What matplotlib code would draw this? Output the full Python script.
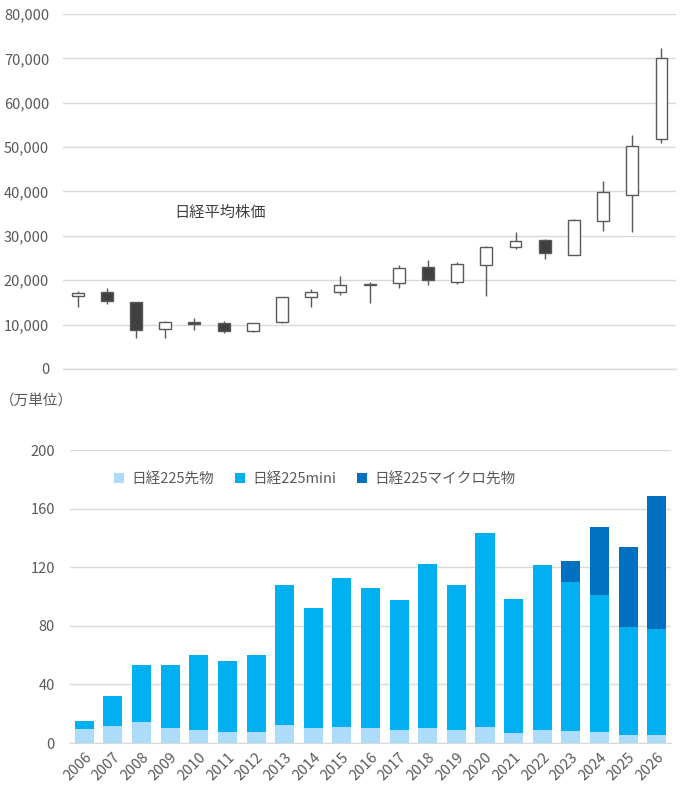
import matplotlib
matplotlib.use("Agg")
import matplotlib.pyplot as plt
import numpy as np

plt.rcParams['font.family'] = ['Noto Sans CJK JP', 'DejaVu Sans']

years = [str(y) for y in range(2006, 2027)]

# 日経平均 年足 (始値, 高値, 安値, 終値)
opens = [16361, 17322, 15155, 8991, 10609, 10398, 8549, 10604, 16147, 17325, 18818,
         19298, 23073, 19655, 23319, 27575, 29098, 25716, 33288, 39307, 51800]
highs = [17563, 18297, 15156, 10767, 11408, 10891, 10433, 16320, 18030, 20952, 19592,
         23382, 24448, 24091, 27602, 30795, 29388, 33853, 42426, 52636, 72300]
lows = [14045, 14669, 6994, 7054, 8796, 8135, 8238, 10398, 13885, 16592, 14864,
        18224, 18949, 19241, 16358, 26954, 24681, 25661, 31156, 30792, 51000]
closes = [17225, 15307, 8859, 10546, 10228, 8455, 10395, 16291, 17450, 19033, 19114,
          22764, 20014, 23656, 27444, 28791, 26094, 33464, 39894, 50339, 70000]

# 取引高 (万単位)
large = [9.6, 11.6, 14.4, 10.3, 8.9, 7.5, 7.5, 12.3, 10.3, 10.9, 10.3,
         8.9, 10.3, 8.9, 10.9, 6.8, 8.9, 8.2, 7.5, 5.5, 5.5]
mini = [5.4, 20.5, 38.9, 43.0, 51.2, 48.5, 52.6, 95.7, 82.0, 101.9, 95.6,
        88.8, 112.0, 99.1, 132.6, 91.6, 112.7, 101.8, 93.6, 73.8, 72.4]
micro = [0, 0, 0, 0, 0, 0, 0, 0, 0, 0, 0,
         0, 0, 0, 0, 0, 0, 14.4, 46.5, 54.6, 90.9]

grid_c = '#D9D9D9'
text_c = '#595959'
x = np.arange(len(years))

fig = plt.figure(figsize=(6.92, 7.94), dpi=100)

# --- candlestick ---
ax1 = fig.add_axes([0.091, 0.5353, 0.886, 0.4471])
o = np.array(opens); c = np.array(closes)
ax1.vlines(x, lows, highs, color=text_c, linewidth=1, zorder=2)
body_bottom = np.minimum(o, c)
body_h = np.abs(c - o)
face = ['white' if cc >= oo else '#404040' for oo, cc in zip(o, c)]
ax1.bar(x, body_h, bottom=body_bottom, width=0.41, color=face,
        edgecolor=text_c, linewidth=1, zorder=3)
ax1.set_xlim(-0.5, len(years) - 0.5)
ax1.set_ylim(0, 80000)
ax1.set_yticks(np.arange(0, 80001, 10000))
ax1.set_yticklabels([f'{v:,}' for v in range(0, 80001, 10000)])
ax1.set_xticks([])
ax1.grid(axis='y', color=grid_c, linewidth=1)
ax1.axhline(0, color=grid_c, linewidth=1, clip_on=False, zorder=0)
ax1.set_axisbelow(True)
for s in ax1.spines.values():
    s.set_visible(False)
ax1.tick_params(axis='y', length=0, labelsize=10.5, labelcolor=text_c, pad=10)
ax1.text(0.256, 0.442, '日経平均株価', transform=ax1.transAxes, ha='center',
         va='center', fontsize=11, color='#404040')

# --- volume bars ---
ax2 = fig.add_axes([0.1012, 0.0642, 0.8685, 0.3687])
w = 0.665
ax2.bar(x, large, width=w, color='#ADDCFB', label='日経225先物', zorder=3)
ax2.bar(x, mini, width=w, bottom=large, color='#00B0F0', label='日経225mini', zorder=3)
ax2.bar(x, micro, width=w, bottom=np.array(large) + np.array(mini), color='#0070C0',
        label='日経225マイクロ先物', zorder=3)
ax2.set_xlim(-0.5, len(years) - 0.5)
ax2.set_ylim(0, 200)
ax2.set_yticks(np.arange(0, 201, 40))
ax2.set_xticks(x)
ax2.set_xticklabels(years, rotation=45, ha='right', rotation_mode='anchor')
ax2.grid(axis='y', color=grid_c, linewidth=1)
ax2.set_axisbelow(True)
for s in ['top', 'right', 'left']:
    ax2.spines[s].set_visible(False)
ax2.spines['bottom'].set_color(grid_c)
ax2.tick_params(axis='y', length=0, labelsize=10.5, labelcolor=text_c, pad=11)
ax2.tick_params(axis='x', length=0, labelsize=10.5, labelcolor=text_c, pad=5)
ax2.legend(loc='upper center', bbox_to_anchor=(0.407, 0.97), ncol=3, frameon=False,
           fontsize=10.5, labelcolor=text_c, handlelength=0.7, handleheight=0.7,
           columnspacing=1.4, handletextpad=0.5)
fig.text(0.0, 0.495, '（万単位）', fontsize=10.5, color=text_c, va='center')

fig.savefig('out.png', dpi=100)
